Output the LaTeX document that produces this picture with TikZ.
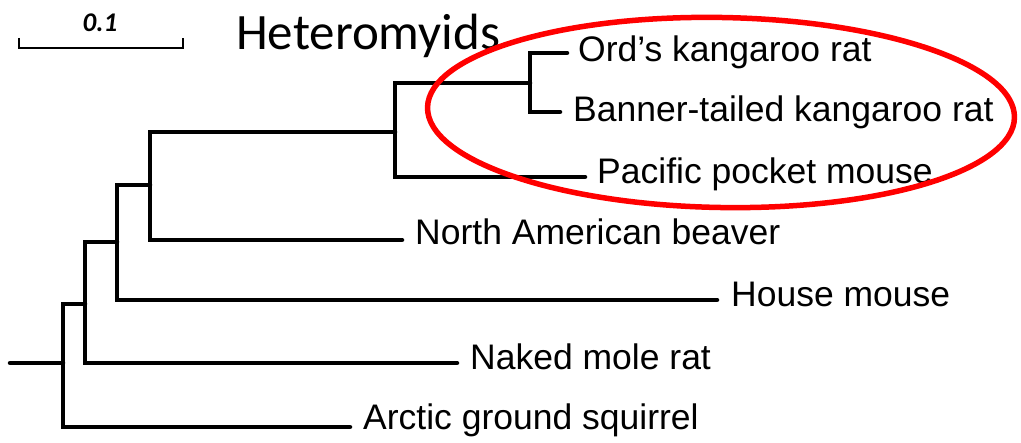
\documentclass[tikz,border=0pt]{standalone}
\usepackage{fontspec}
\usetikzlibrary{calc}
\setmainfont{Liberation Sans}
\newfontfamily\calib{Carlito}
\begin{document}
\begin{tikzpicture}[x=1pt,y=-1pt,
  branch/.style={line width=4.5pt,line cap=round,line join=miter},
  leaf/.style={anchor=base west,inner sep=0pt,font=\fontsize{35.5}{40}\selectfont},
  hlight/.style={draw=red,line width=5.5pt}]
\useasboundingbox (0,0) rectangle (1021,443);
% scale bar
\coordinate (sbl) at (19,48);
\coordinate (sbr) at (183,48);
\draw[line width=2pt] ($(sbl)+(0,-10)$) -- (sbl) -- (sbr) -- ($(sbr)+(0,-10)$);
\node[anchor=base,inner sep=0pt,font=\calib\bfseries\itshape\fontsize{27}{30}\selectfont] (sblab) at (100,32) {0.1};
\node[anchor=base west,inner sep=0pt,font=\calib\fontsize{51}{60}\selectfont] (title) at (236,50) {Heteromyids};
% internal nodes
\coordinate (r0) at (10,363);
\coordinate (n1) at (63,363);
\coordinate (n2) at (85,304);
\coordinate (n3) at (117,242);
\coordinate (n4) at (150,185);
\coordinate (n5) at (395,132);
\coordinate (n6) at (530,83);
% tips
\coordinate (tord) at (567,53);
\coordinate (tban) at (560,112);
\coordinate (tpac) at (585,177);
\coordinate (tbea) at (402,240);
\coordinate (thou) at (717,300);
\coordinate (tnak) at (457,363);
\coordinate (tarc) at (350,427);
% branches
\draw[branch] (r0) -- (n1);
\draw[branch] (n1) |- (n2);
\draw[branch] (n1) |- (tarc);
\draw[branch] (n2) |- (n3);
\draw[branch] (n2) |- (tnak);
\draw[branch] (n3) |- (n4);
\draw[branch] (n3) |- (thou);
\draw[branch] (n4) |- (n5);
\draw[branch] (n4) |- (tbea);
\draw[branch] (n5) |- (n6);
\draw[branch] (n5) |- (tpac);
\draw[branch] (n6) |- (tord);
\draw[branch] (n6) |- (tban);
% labels
\node[leaf] (lord) at (578,62) {Ord’s kangaroo rat};
\node[leaf] (lban) at (573,122) {Banner-tailed kangaroo rat};
\node[leaf] (lpac) at (597,184) {Pacific pocket mouse};
\node[leaf] (lbea) at (415,245) {North American beaver};
\node[leaf] (lhou) at (731,307) {House mouse};
\node[leaf] (lnak) at (470,370) {Naked mole rat};
\node[leaf] (larc) at (363,430) {Arctic ground squirrel};
% highlight
\draw[hlight,rotate around={-1:(721,112.5)}] (721,112.5) ellipse [x radius=293.5,y radius=95];
\end{tikzpicture}
\end{document}
